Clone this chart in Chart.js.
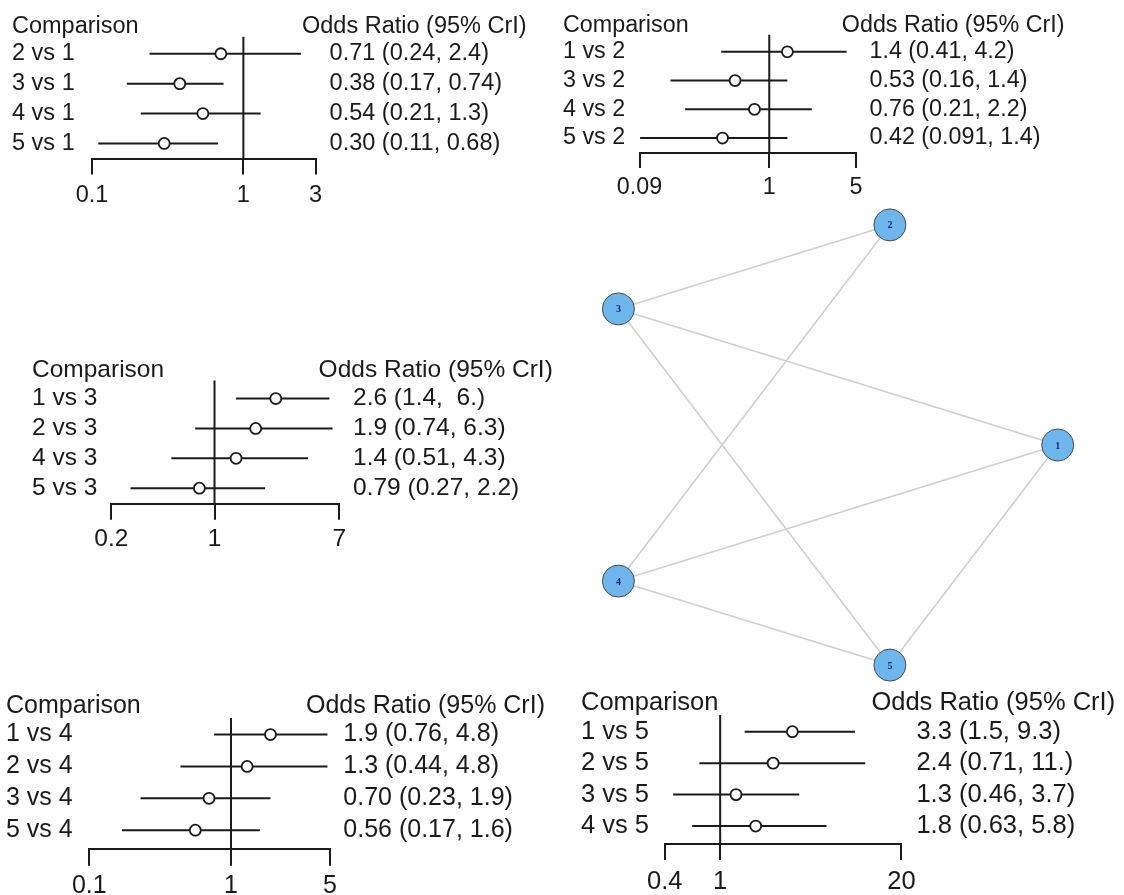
<!DOCTYPE html>
<html>
<head>
<meta charset="utf-8">
<script src="https://cdn.jsdelivr.net/npm/chart.js@4.4.1/dist/chart.umd.min.js"></script>
<style>
  html, body { margin: 0; background: #fff; }
  body { width: 1124px; height: 895px; overflow: hidden; position: relative; }
  canvas { position: absolute; }
</style>
</head>
<body>
<canvas id="p1"></canvas>
<canvas id="p2"></canvas>
<canvas id="p3"></canvas>
<canvas id="p4"></canvas>
<canvas id="p5"></canvas>
<canvas id="net"></canvas>
<script>
// ---- forest plot data (odds ratio, 95% CrI) ----
const cmp1 = ['2 vs 1', '3 vs 1', '4 vs 1', '5 vs 1'];
const or1 = [0.71, 0.38, 0.54, 0.30];
const lo1 = [0.24, 0.17, 0.21, 0.11];
const hi1 = [2.4, 0.74, 1.3, 0.68];
const txt1 = ['0.71 (0.24, 2.4)', '0.38 (0.17, 0.74)', '0.54 (0.21, 1.3)', '0.30 (0.11, 0.68)'];
const ticks1 = [0.1, 1, 3];
const tickLab1 = ['0.1', '1', '3'];

const cmp2 = ['1 vs 2', '3 vs 2', '4 vs 2', '5 vs 2'];
const or2 = [1.4, 0.53, 0.76, 0.42];
const lo2 = [0.41, 0.16, 0.21, 0.091];
const hi2 = [4.2, 1.4, 2.2, 1.4];
const txt2 = ['1.4 (0.41, 4.2)', '0.53 (0.16, 1.4)', '0.76 (0.21, 2.2)', '0.42 (0.091, 1.4)'];
const ticks2 = [0.09, 1, 5];
const tickLab2 = ['0.09', '1', '5'];

const cmp3 = ['1 vs 3', '2 vs 3', '4 vs 3', '5 vs 3'];
const or3 = [2.6, 1.9, 1.4, 0.79];
const lo3 = [1.4, 0.74, 0.51, 0.27];
const hi3 = [6.0, 6.3, 4.3, 2.2];
const txt3 = ['2.6 (1.4,  6.)', '1.9 (0.74, 6.3)', '1.4 (0.51, 4.3)', '0.79 (0.27, 2.2)'];
const ticks3 = [0.2, 1, 7];
const tickLab3 = ['0.2', '1', '7'];

const cmp4 = ['1 vs 4', '2 vs 4', '3 vs 4', '5 vs 4'];
const or4 = [1.9, 1.3, 0.70, 0.56];
const lo4 = [0.76, 0.44, 0.23, 0.17];
const hi4 = [4.8, 4.8, 1.9, 1.6];
const txt4 = ['1.9 (0.76, 4.8)', '1.3 (0.44, 4.8)', '0.70 (0.23, 1.9)', '0.56 (0.17, 1.6)'];
const ticks4 = [0.1, 1, 5];
const tickLab4 = ['0.1', '1', '5'];

const cmp5 = ['1 vs 5', '2 vs 5', '3 vs 5', '4 vs 5'];
const or5 = [3.3, 2.4, 1.3, 1.8];
const lo5 = [1.5, 0.71, 0.46, 0.63];
const hi5 = [9.3, 11, 3.7, 5.8];
const txt5 = ['3.3 (1.5, 9.3)', '2.4 (0.71, 11.)', '1.3 (0.46, 3.7)', '1.8 (0.63, 5.8)'];
const ticks5 = [0.4, 1, 20];
const tickLab5 = ['0.4', '1', '20'];

// ---- network data ----
const nodeNames = ['1', '2', '3', '4', '5'];
const nodeX = [1, 0.309, -0.809, -0.809, 0.309];
const nodeY = [0, 0.951, 0.588, -0.588, -0.951];
const edges = [[3, 2], [3, 1], [3, 5], [2, 4], [4, 1], [4, 5], [1, 5]];

const ink = '#1a1a1a';
const fam = '"Liberation Sans", Arial, sans-serif';
Chart.defaults.font.family = fam;

function forest(id, cmp, or, lo, hi, txt, ticks, tickLab, g) {
  const el = document.getElementById(id);
  const top = g.hdrBase - 30;
  const W = g.W;
  const H = g.axisY + 60 - top;
  el.width = W; el.height = H;
  el.style.left = g.labelX + 'px';
  el.style.top = top + 'px';

  const ciSets = lo.map((l, i) => ({
    data: [{ x: l, y: i }, { x: hi[i], y: i }],
    showLine: true, borderColor: ink, borderWidth: 2, pointRadius: 0, order: 1
  }));

  return new Chart(el, {
    type: 'scatter',
    data: {
      datasets: [
        { data: or.map((v, i) => ({ x: v, y: i })), pointRadius: 5.5,
          pointBackgroundColor: '#fff', pointBorderColor: ink, pointBorderWidth: 1.8, order: 0 },
        { data: [{ x: 1, y: g.yMin }, { x: 1, y: g.yMax }], showLine: true,
          borderColor: ink, borderWidth: 2, pointRadius: 0, order: 1 },
        ...ciSets
      ]
    },
    options: {
      responsive: false,
      animation: false,
      events: [],
      layout: { autoPadding: false, padding: { top: g.chartT - top, left: 0, right: 0, bottom: 0 } },
      plugins: { legend: { display: false }, tooltip: { enabled: false } },
      scales: {
        x: {
          type: 'logarithmic',
          min: ticks[0],
          max: ticks[ticks.length - 1],
          afterBuildTicks: s => { s.ticks = ticks.map(v => ({ value: v })); },
          afterFit: s => { s.height = H - (g.axisY - top); },
          border: { display: true, color: ink, width: 2 },
          grid: { drawOnChartArea: false, drawTicks: true, tickLength: g.tickLen, color: ink, lineWidth: 2 },
          ticks: { autoSkip: false, maxRotation: 0, padding: g.pad, color: ink,
                   font: { size: g.font }, callback: (v, i) => tickLab[i] }
        },
        y: {
          type: 'linear',
          position: 'left',
          reverse: true,
          min: g.yMin,
          max: g.yMax,
          afterBuildTicks: s => { s.ticks = cmp.map((c, i) => ({ value: i })); },
          afterFit: s => { s.width = g.chartL - g.labelX; },
          border: { display: false },
          grid: { display: false, drawTicks: false },
          ticks: { crossAlign: 'far', padding: 0, color: ink, font: { size: g.font },
                   callback: v => cmp[v] }
        },
        y2: {
          type: 'linear',
          position: 'right',
          reverse: true,
          min: g.yMin,
          max: g.yMax,
          afterBuildTicks: s => { s.ticks = txt.map((t, i) => ({ value: i })); },
          afterFit: s => { s.width = W - (g.chartR - g.labelX); },
          border: { display: false },
          grid: { display: false, drawTicks: false },
          ticks: { crossAlign: 'near', padding: g.valueX - g.chartR, color: ink,
                   font: { size: g.font }, callback: v => txt[v] }
        }
      }
    },
    plugins: [{
      id: 'headers',
      afterDraw(c) {
        const ctx = c.ctx;
        ctx.save();
        ctx.font = g.font + 'px ' + fam;
        ctx.fillStyle = ink;
        ctx.textBaseline = 'alphabetic';
        ctx.textAlign = 'left';
        ctx.fillText('Comparison', 0, g.hdrBase - top);
        ctx.fillText('Odds Ratio (95% CrI)', g.oddsX - g.labelX, g.hdrBase - top);
        ctx.restore();
      }
    }]
  });
}

forest('p1', cmp1, or1, lo1, hi1, txt1, ticks1, tickLab1, {
  labelX: 11.7, W: 560, hdrBase: 33.3, oddsX: 301.7, chartL: 91.7, chartR: 315.3,
  chartT: 36.7, axisY: 159.5, yMin: -0.58, yMax: 3.52, valueX: 329.3,
  font: 23.5, tickLen: 15.5, pad: 7
});
forest('p2', cmp2, or2, lo2, hi2, txt2, ticks2, tickLab2, {
  labelX: 562.5, W: 561, hdrBase: 31.7, oddsX: 841.3, chartL: 639, chartR: 855.5,
  chartT: 34.3, axisY: 153.3, yMin: -0.6, yMax: 3.52, valueX: 869,
  font: 23.3, tickLen: 15, pad: 6
});
forest('p3', cmp3, or3, lo3, hi3, txt3, ticks3, tickLab3, {
  labelX: 31.7, W: 560, hdrBase: 376.7, oddsX: 318.3, chartL: 111, chartR: 339,
  chartT: 380, axisY: 504.3, yMin: -0.61, yMax: 3.53, valueX: 352.7,
  font: 24.5, tickLen: 15.7, pad: 5
});
forest('p4', cmp4, or4, lo4, hi4, txt4, ticks4, tickLab4, {
  labelX: 6, W: 560, hdrBase: 713.3, oddsX: 306, chartL: 89.3, chartR: 330,
  chartT: 718.3, axisY: 850, yMin: -0.52, yMax: 3.59, valueX: 343.3,
  font: 25, tickLen: 16.7, pad: 5.5
});
forest('p5', cmp5, or5, lo5, hi5, txt5, ticks5, tickLab5, {
  labelX: 580.6, W: 543, hdrBase: 710, oddsX: 871, chartL: 664.3, chartR: 901,
  chartT: 715, axisY: 844, yMin: -0.53, yMax: 3.57, valueX: 916,
  font: 25.5, tickLen: 16, pad: 6.5
});

// ---- network graph ----
const netEl = document.getElementById('net');
netEl.width = 510; netEl.height = 486;
netEl.style.left = '572px';
netEl.style.top = '202px';

const edgeSets = edges.map(([a, b]) => ({
  data: [{ x: nodeX[a - 1], y: nodeY[a - 1] }, { x: nodeX[b - 1], y: nodeY[b - 1] }],
  showLine: true, borderColor: '#cfcfcf', borderWidth: 1.6, pointRadius: 0, order: 1
}));

new Chart(netEl, {
  type: 'scatter',
  data: {
    datasets: [
      ...edgeSets,
      { data: nodeX.map((x, i) => ({ x: x, y: nodeY[i] })), pointRadius: 16,
        pointBackgroundColor: '#6fb6ec', pointBorderColor: '#4a4a4a', pointBorderWidth: 1,
        order: 0, clip: false }
    ]
  },
  options: {
    responsive: false,
    animation: false,
    events: [],
    layout: { autoPadding: false, padding: 0 },
    plugins: { legend: { display: false }, tooltip: { enabled: false } },
    scales: {
      x: { type: 'linear', display: false, min: -1, max: 1.1 },
      y: { type: 'linear', display: false, min: -1.05, max: 1.05 }
    }
  },
  plugins: [{
    id: 'nodeLabels',
    afterDatasetsDraw(c) {
      const meta = c.getDatasetMeta(c.data.datasets.length - 1);
      const ctx = c.ctx;
      ctx.save();
      ctx.font = 'bold 10px "Liberation Serif", serif';
      ctx.fillStyle = '#1c2290';
      ctx.textAlign = 'center';
      ctx.textBaseline = 'middle';
      meta.data.forEach((pt, i) => ctx.fillText(nodeNames[i], pt.x, pt.y + 1));
      ctx.restore();
    }
  }]
});
</script>
</body>
</html>
